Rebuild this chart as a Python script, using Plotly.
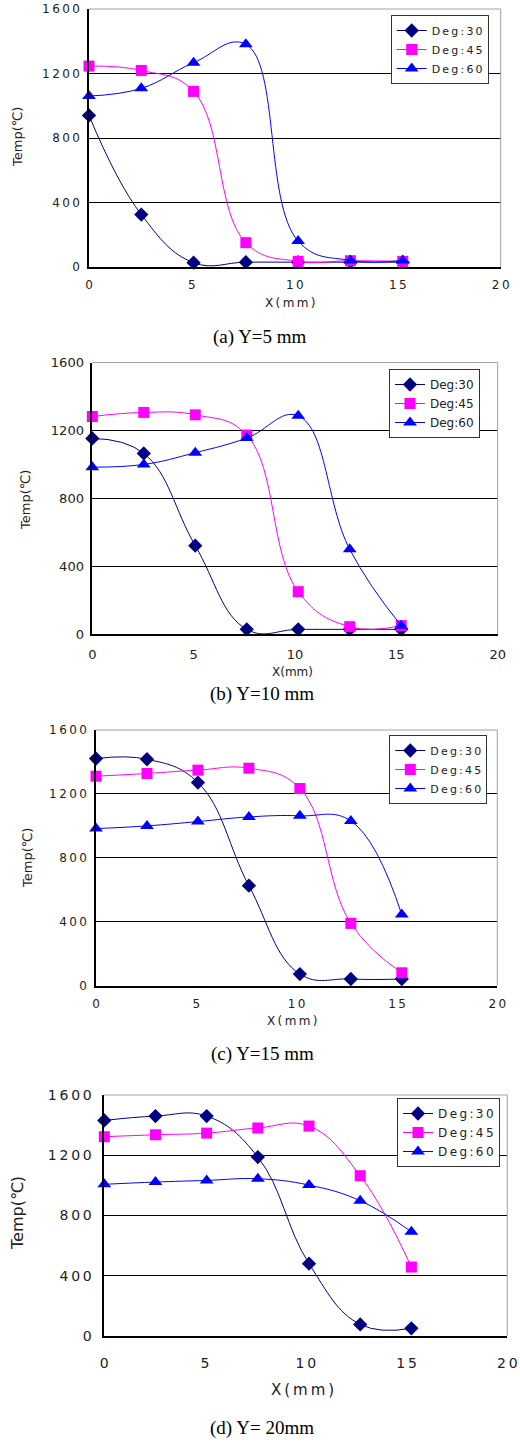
import plotly.graph_objects as go

W, H = 520, 1442

# ---------------- data ----------------
X_MM = [0, 2.54, 5.08, 7.62, 10.16, 12.7, 15.24]
SERIES = ["Deg:30", "Deg:45", "Deg:60"]
X_TICKS = [0, 5, 10, 15, 20]
Y_TICKS = [0, 400, 800, 1200, 1600]
CAPTIONS = ["(a) Y=5 mm", "(b) Y=10 mm", "(c) Y=15 mm", "(d) Y= 20mm"]

A_DEG30 = [940, 325, 27, 30, 30, 30, 30]
A_DEG45 = [1246, 1219, 1089, 151, 35, 39, 35]
A_DEG60 = [1060, 1108, 1267, 1381, 161, 41, 41]

B_DEG30 = [1153, 1065, 522, 29, 29, 29, 29]
B_DEG45 = [1282, 1306, 1292, 1173, 251, 45, 51]
B_DEG60 = [984, 1000, 1069, 1155, 1286, 500, 51]

C_DEG30 = [1421, 1417, 1271, 626, 73, 42, 42]
C_DEG45 = [1311, 1328, 1349, 1361, 1234, 390, 81]
C_DEG60 = [983, 1000, 1027, 1056, 1063, 1031, 445]

D_DEG30 = [1431, 1460, 1460, 1188, 480, 77, 51]
D_DEG45 = [1323, 1336, 1347, 1381, 1394, 1064, 458]
D_DEG60 = [1007, 1022, 1033, 1044, 1002, 898, 692]

PANEL_DATA = [
    (A_DEG30, A_DEG45, A_DEG60),
    (B_DEG30, B_DEG45, B_DEG60),
    (C_DEG30, C_DEG45, C_DEG60),
    (D_DEG30, D_DEG45, D_DEG60),
]

# ---------------- styles / layout ----------------
COLORS = ["#000080", "#FF00FF", "#0000FF"]
SYMBOLS = ["diamond", "square", "triangle-up"]
SIZES = [11, 11, 12]
FONT = "DejaVu Sans"


def fx(p):
    return p / W


def fy(p):
    return 1 - p / H


def spaced(s, on):
    return "\u2009".join(list(s)) if on else s


# pixel geometry per panel
PANELS = [
    dict(l=89, r=500.7, t=9, b=267, fs=12, sp=True, lfs=11, xtl=6, ytl=5,
         leg=(390.7, 15), ytit=(18, 137), xtit=(290, 303), cap=(260, 337), tfs=13),
    dict(l=92.3, r=497.7, t=362.5, b=634.3, fs=13, sp=False, lfs=12, xtl=7, ytl=4,
         leg=(389, 369), ytit=(25, 500), xtit=(292, 672), cap=(262, 694), tfs=13),
    dict(l=96, r=497.3, t=730, b=985.7, fs=12, sp=True, lfs=11, xtl=6, ytl=5,
         leg=(389.3, 735), ytit=(28, 858), xtit=(292, 1021), cap=(262, 1054), tfs=13),
    dict(l=104.3, r=507.3, t=1095, b=1336, fs=14, sp=True, lfs=12, xtl=13, ytl=8,
         leg=(397, 1098), ytit=(17, 1213), xtit=(302, 1390), cap=(262, 1428), tfs=16),
]

fig = go.Figure()
layout = dict(
    width=W, height=H,
    margin=dict(l=0, r=0, t=0, b=0, autoexpand=False),
    paper_bgcolor="white", plot_bgcolor="white",
    showlegend=True, annotations=[], shapes=[],
)

for i, (p, data) in enumerate(zip(PANELS, PANEL_DATA)):
    n = "" if i == 0 else str(i + 1)
    xa, ya = "x" + n, "y" + n
    leg = "legend" + n
    for j, (name, vals) in enumerate(zip(SERIES, data)):
        fig.add_trace(go.Scatter(
            x=X_MM, y=vals, name=spaced(name, p["sp"]),
            mode="lines+markers",
            line=dict(color=COLORS[j], width=1, shape="spline", smoothing=1.2),
            marker=dict(symbol=SYMBOLS[j], size=SIZES[j], color=COLORS[j],
                        line=dict(width=0)),
            cliponaxis=False,
            xaxis=xa, yaxis=ya, legend=leg,
        ))

    layout["xaxis" + n] = dict(
        domain=[fx(p["l"]), fx(p["r"])], anchor=ya, range=[0, 20],
        automargin=False,
        tickmode="array", tickvals=X_TICKS,
        ticktext=[spaced(str(v), p["sp"]) for v in X_TICKS],
        showline=True, linecolor="black", linewidth=1.5,
        showgrid=False, zeroline=False,
        ticks="outside", ticklen=p["xtl"], tickcolor="rgba(0,0,0,0)",
        tickfont=dict(family=FONT, size=p["fs"], color="#222"),
    )
    layout["yaxis" + n] = dict(
        domain=[fy(p["b"]), fy(p["t"])], anchor=xa, range=[0, 1600],
        automargin=False,
        tickmode="array", tickvals=Y_TICKS,
        ticktext=[spaced(str(v), p["sp"]) for v in Y_TICKS],
        showline=True, linecolor="black", linewidth=1.5,
        showgrid=True, gridcolor="black", gridwidth=1, zeroline=False,
        ticks="outside", ticklen=p["ytl"], tickcolor="rgba(0,0,0,0)",
        tickfont=dict(family=FONT, size=p["fs"], color="#222"),
    )
    layout[leg] = dict(
        x=fx(p["leg"][0]), y=fy(p["leg"][1]), xanchor="left", yanchor="top",
        bgcolor="white", bordercolor="#333", borderwidth=1,
        font=dict(family=FONT, size=p["lfs"], color="#222"),
        tracegroupgap=0,
    )
    # gray top / right frame
    for (x0, y0, x1, y1) in [(0, 1, 1, 1), (1, 0, 1, 1)]:
        layout["shapes"].append(dict(
            type="line", xref=xa + " domain", yref=ya + " domain",
            x0=x0, y0=y0, x1=x1, y1=y1,
            line=dict(color="#A0A0A0", width=1), layer="above"))
    # axis titles
    layout["annotations"].append(dict(
        text="Temp(℃)", textangle=-90, xref="paper", yref="paper",
        x=fx(p["ytit"][0]), y=fy(p["ytit"][1]), xanchor="center", yanchor="middle",
        showarrow=False, font=dict(family=FONT, size=p["tfs"], color="#222")))
    layout["annotations"].append(dict(
        text=spaced("X(mm)", p["sp"]), xref="paper", yref="paper",
        x=fx(p["xtit"][0]), y=fy(p["xtit"][1]), xanchor="center", yanchor="middle",
        showarrow=False, font=dict(family=FONT, size=p["tfs"] - 1, color="#222")))
    layout["annotations"].append(dict(
        text=CAPTIONS[i], xref="paper", yref="paper",
        x=fx(p["cap"][0]), y=fy(p["cap"][1]), xanchor="center", yanchor="middle",
        showarrow=False, font=dict(family="Liberation Serif", size=19, color="black")))

fig.update_layout(**layout)
fig.write_html("out.html",
               config={"displayModeBar": False},
               post_script="document.body.style.margin='0';document.body.style.overflow='hidden';")
